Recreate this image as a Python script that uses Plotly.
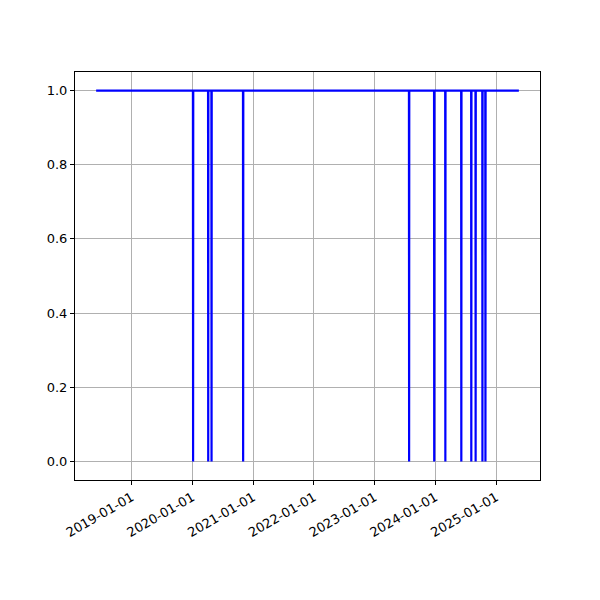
import plotly.graph_objects as go
import pandas as pd

# Data: availability flag over time (1 = up, 0 = down)
dates = [
    "2018-06-01",
    "2020-01-04", "2020-01-05", "2020-01-06",
    "2020-04-04", "2020-04-05", "2020-04-06",
    "2020-04-24", "2020-04-25", "2020-04-26",
    "2020-10-31", "2020-11-01", "2020-11-02",
    "2023-07-26", "2023-07-27", "2023-07-28",
    "2023-12-24", "2023-12-25", "2023-12-26",
    "2024-02-29", "2024-03-01", "2024-03-02",
    "2024-06-04", "2024-06-05", "2024-06-06",
    "2024-08-03", "2024-08-04", "2024-08-05",
    "2024-08-29", "2024-08-30", "2024-08-31",
    "2024-10-09", "2024-10-10", "2024-10-11",
    "2024-10-27", "2024-10-28", "2024-10-29",
    "2025-05-17",
]
values = [
    1,
    1, 0, 1,
    1, 0, 1,
    1, 0, 1,
    1, 0, 1,
    1, 0, 1,
    1, 0, 1,
    1, 0, 1,
    1, 0, 1,
    1, 0, 1,
    1, 0, 1,
    1, 0, 1,
    1, 0, 1,
    1,
]
x_ticks = ["2019-01-01", "2020-01-01", "2021-01-01", "2022-01-01",
           "2023-01-01", "2024-01-01", "2025-01-01"]
y_ticks = [0.0, 0.2, 0.4, 0.6, 0.8, 1.0]

d = pd.to_datetime(dates)
span = d.max() - d.min()
x_range = [d.min() - span * 0.05, d.max() + span * 0.05]
vspan = max(values) - min(values)
y_range = [min(values) - 0.05 * vspan, max(values) + 0.05 * vspan]

font = dict(family="DejaVu Sans", size=13, color="black")

fig = go.Figure()
fig.add_trace(go.Scatter(x=d, y=values, mode="lines",
                         line=dict(color="#0000ff", width=2.2), showlegend=False))

axis_common = dict(
    showline=True, linecolor="black", linewidth=1, mirror=True,
    showgrid=True, gridcolor="#b0b0b0", gridwidth=1,
    ticks="outside", ticklen=4, tickcolor="black", tickwidth=1,
    zeroline=False, tickfont=font, automargin=False,
)
fig.update_xaxes(range=x_range, tickmode="array", tickvals=x_ticks,
                 ticktext=x_ticks, tickangle=-30, **axis_common)
fig.update_yaxes(range=y_range, tickmode="array", tickvals=y_ticks,
                 ticktext=[f"{v:.1f}" for v in y_ticks], **axis_common)

fig.update_layout(
    width=600, height=600,
    margin=dict(l=67, r=68, t=64, b=128),
    paper_bgcolor="white", plot_bgcolor="white",
    font=font,
)
fig.write_html("out.html")
